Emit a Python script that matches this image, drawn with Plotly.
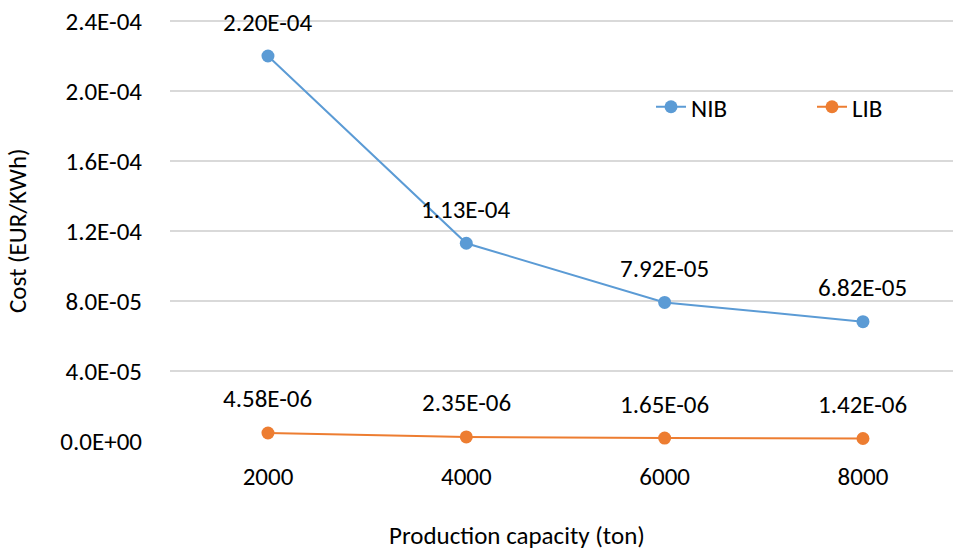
import plotly.graph_objects as go

categories = ["2000", "4000", "6000", "8000"]
nib = [2.20e-04, 1.13e-04, 7.92e-05, 6.82e-05]
lib = [4.58e-06, 2.35e-06, 1.65e-06, 1.42e-06]
y_ticks = [0, 4e-05, 8e-05, 1.2e-04, 1.6e-04, 2.0e-04, 2.4e-04]
y_ticklabels = [f"{v:.1E}" for v in y_ticks]

FONT = "Carlito, Calibri, Liberation Sans, sans-serif"
FS = 25
BLUE = "#5B9BD5"
ORANGE = "#ED7D31"

W, H = 953, 548
# plot area: 2.4E-04 gridline at y=21, zero at y=441; extend 3px above so top grid shows
L, PW = 170, 783
T, PH = 18, 423
Y_TOP = 2.4e-04 * PH / 420

fig = go.Figure()
for name, vals, col in [("NIB", nib, BLUE), ("LIB", lib, ORANGE)]:
    fig.add_trace(go.Scatter(
        x=list(range(len(categories))), y=vals, name=name, mode="lines+markers",
        line=dict(color=col, width=2), marker=dict(color=col, size=13),
        cliponaxis=False,
    ))
    for i, v in enumerate(vals):
        fig.add_annotation(x=i, y=v, text=f"{v:.2E}", showarrow=False,
                           yshift=34, font=dict(family=FONT, size=FS, color="#000000"))

fig.add_annotation(xref="paper", yref="paper", x=(517 - L) / PW, y=-(535 - (T + PH)) / PH,
                   xanchor="center", yanchor="middle",
                   text="Production capacity (ton)", showarrow=False,
                   font=dict(family=FONT, size=FS, color="#000000"))
fig.add_annotation(xref="paper", yref="paper", x=-(L - 18) / PW, y=((T + PH) - 231) / PH,
                   xanchor="center", yanchor="middle",
                   text="Cost (EUR/KWh)", showarrow=False, textangle=-90,
                   font=dict(family=FONT, size=FS, color="#000000"))

fig.update_layout(
    width=W, height=H,
    margin=dict(l=L, r=W - L - PW, t=T, b=H - T - PH, autoexpand=False),
    paper_bgcolor="white", plot_bgcolor="white",
    font=dict(family=FONT, size=FS, color="#000000"),
    showlegend=True,
    legend=dict(orientation="h", x=(651 - L) / PW, y=((T + PH) - 107) / PH,
                xanchor="left", yanchor="middle", bgcolor="rgba(0,0,0,0)",
                font=dict(family=FONT, size=FS), entrywidth=116, entrywidthmode="pixels"),
    xaxis=dict(range=[-0.494, 3.454], tickvals=list(range(len(categories))),
               ticktext=categories, showgrid=False, zeroline=False, showline=False,
               ticks="", ticklabelstandoff=18),
    yaxis=dict(range=[0, Y_TOP], tickvals=y_ticks, ticktext=y_ticklabels,
               showgrid=True, gridcolor="#D9D9D9", gridwidth=1.5, zeroline=False,
               showline=False, ticks="", ticklabelstandoff=27,
               ticklabeloverflow="allow"),
)
fig.write_html("out.html", config={"displayModeBar": False},
               post_script="document.body.style.margin='0';")
